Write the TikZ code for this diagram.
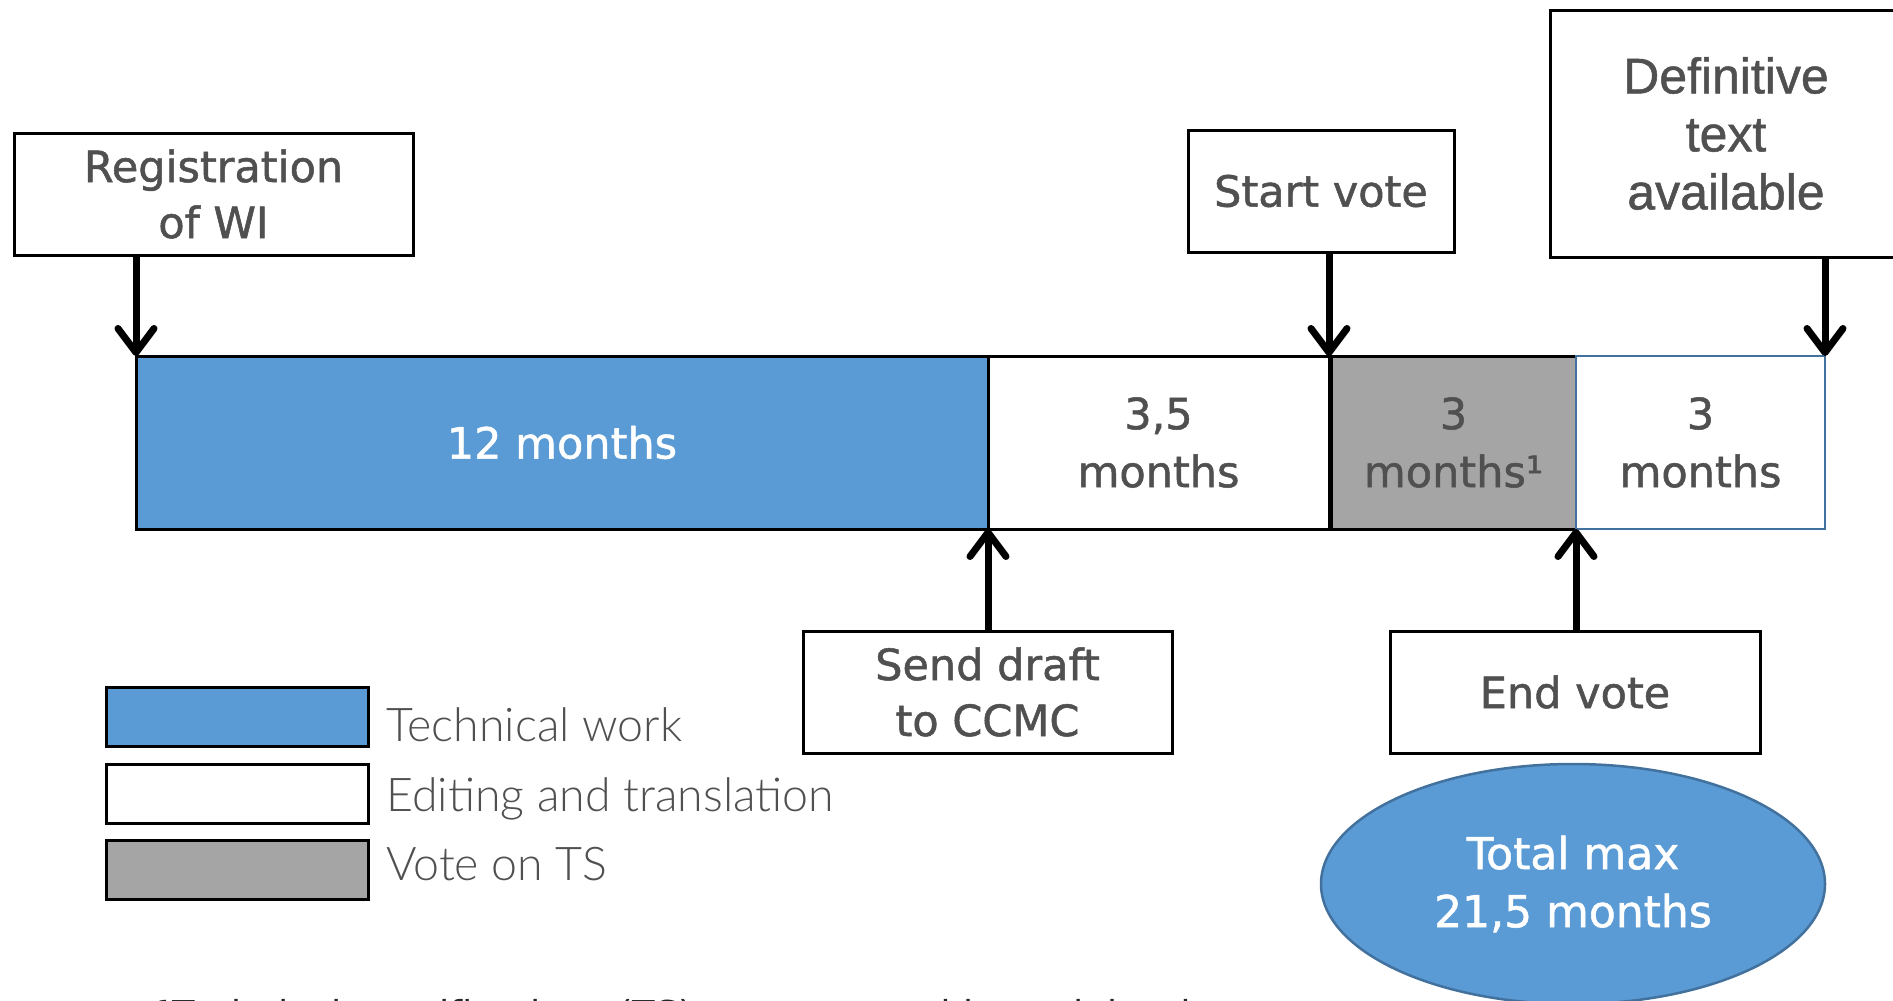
\documentclass[tikz,border=0pt]{standalone}
\usepackage{fontspec}
\setmainfont{DejaVu Sans}[FakeBold=1.2]
\newfontfamily\medfont{DejaVu Sans}[FakeBold=1.2]
\newfontfamily\dvfont{DejaVu Sans}
\newfontfamily\arialfont{Liberation Sans}[FakeBold=1]
\newfontfamily\lightfont{Lato Light}
\usetikzlibrary{arrows.meta,shapes.geometric}
\definecolor{tblue}{RGB}{91,155,213}
\definecolor{tgray}{RGB}{165,165,165}
\definecolor{tedge}{RGB}{65,113,156}
\definecolor{ttext}{RGB}{80,80,80}
\begin{document}
\begin{tikzpicture}[x=1pt,y=-1pt,
 labelbox/.style={draw=black, line width=3pt, fill=white, inner sep=0pt, outer sep=0pt, align=center, text=ttext, font=\medfont\fontsize{43}{56}\selectfont},
 seg/.style={draw=black, line width=3pt, inner sep=0pt, outer sep=0pt, anchor=north west, minimum height=173pt, align=center, font=\medfont\fontsize{43}{58}\selectfont, text=ttext},
 arr/.style={line width=7pt, -{Straight Barb[length=24pt,width=36pt,line cap=round,line join=round]}},
 legbox/.style={draw=black, line width=3pt, anchor=north west, minimum width=262pt, minimum height=59pt, inner sep=0pt, outer sep=0pt},
 legtext/.style={anchor=base west, text=ttext, font=\lightfont\fontsize{46.5}{50}\selectfont, inner sep=0pt}
]
\useasboundingbox (0,0) rectangle (1893,1001);

% timeline segments
\node[seg, fill=tblue, minimum width=852pt, text=white] (s1) at (136,356) {12 months};
\node[seg, fill=white, minimum width=341pt] (s2) at (988,356) {3,5\\months};
\node[seg, fill=tgray, minimum width=245pt] (s3) at (1331,356) {3\\months¹};
\node[seg, fill=white, draw=tedge, line width=2.5pt, minimum width=249pt] (s4) at (1576,356) {3\\months};

% milestone boxes
\node[labelbox, minimum width=399pt, minimum height=122pt] (reg) at (213.5,194) {Registration\\of WI};
\node[labelbox, minimum width=266pt, minimum height=122pt] (start) at (1321,191) {Start vote};
\node[labelbox, minimum width=352pt, minimum height=247pt, font=\arialfont\fontsize{50}{58}\selectfont] (def) at (1726,133.5) {Definitive\\text\\available};
\node[labelbox, minimum width=369pt, minimum height=122pt] (send) at (987.5,692) {Send draft\\to CCMC};
\node[labelbox, minimum width=370pt, minimum height=122pt] (end) at (1575,692) {End vote};

% total
\node[ellipse, draw=tedge, line width=2.5pt, fill=tblue, minimum width=504pt, minimum height=240pt, inner sep=0pt, text=white, align=center, font=\medfont\fontsize{44}{58}\selectfont] (tot) at (1573,884) {Total max\\21,5 months};

% arrows
\draw[arr] (s1.north west |- reg.south) -- (s1.north west);
\draw[arr] (s2.north east |- start.south) -- (s2.north east);
\draw[arr] (s4.north east |- def.south) -- (s4.north east);
\draw[arr] (send.north -| s1.south east) -- (s1.south east);
\draw[arr] (end.north -| s3.south east) -- (s3.south east);

% legend
\node[legbox, fill=tblue] (l1) at (106,687) {};
\node[legbox, fill=white] (l2) at (106,764) {};
\node[legbox, fill=tgray] (l3) at (106,840) {};
\node[legtext] (t1) at (386,741) {Technical work};
\node[legtext] (t2) at (386,811) {Editing and translation};
\node[legtext] (t3) at (386,880) {Vote on TS};

% footnote (cut off by the page edge, as in the reference)
\node[anchor=base west, font=\dvfont\fontsize{37}{40}\selectfont, text=black!85, inner sep=0pt] (fn) at (157,1027) {¹Technical specifications (TS) are approved by weighted vote};
\end{tikzpicture}
\end{document}
